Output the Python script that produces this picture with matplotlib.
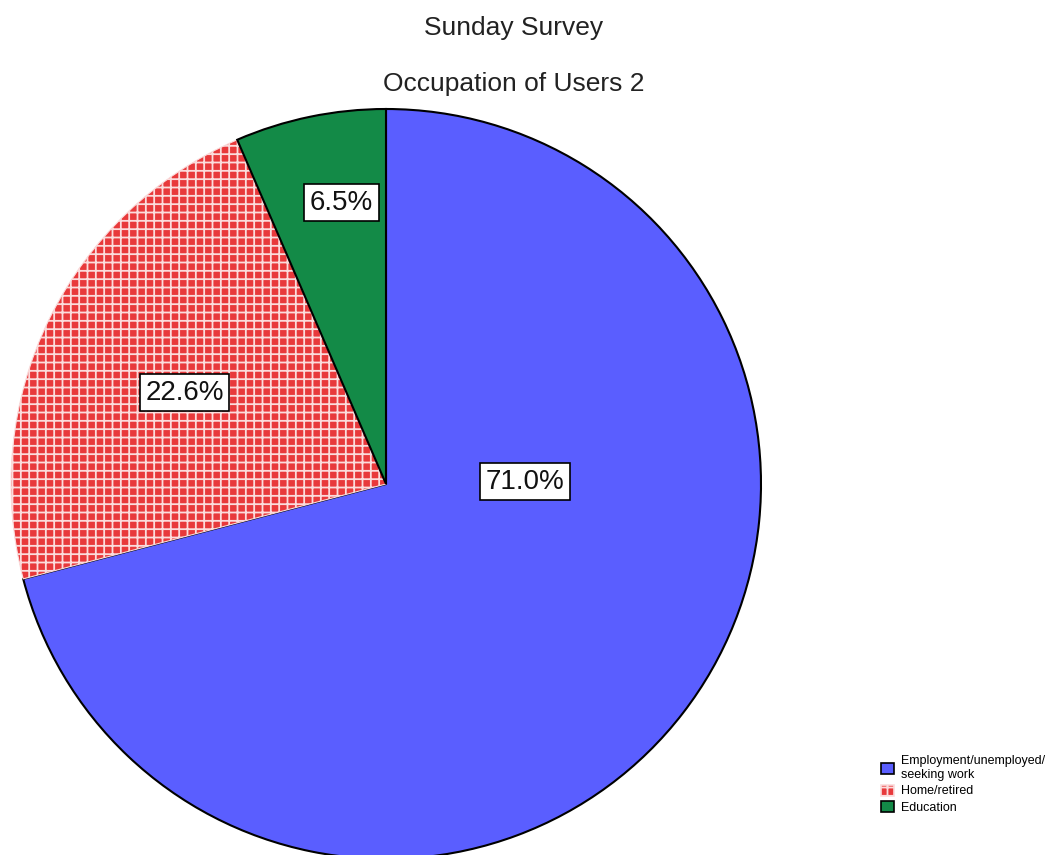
import matplotlib
matplotlib.use("Agg")
import matplotlib.pyplot as plt
from matplotlib.patches import Patch
import numpy as np

plt.rcParams['font.family'] = ['Liberation Sans', 'DejaVu Sans']
plt.rcParams['hatch.linewidth'] = 1.3

# data
categories = ["Employment/unemployed/\nseeking work", "Home/retired", "Education"]
shares = [71.0, 22.6, 6.5]
colors = ["#5a5eff", "#e8393b", "#138a47"]
edge_colors = ["black", "#fbdcdc", "black"]
hatches = [None, "++", None]
# label placement (angle in degrees, fraction of radius), as SPSS put them
label_pos = [(1.0, 0.37), (155.6, 0.59), (99.0, 0.76)]

W, H = 1062, 855
fig = plt.figure(figsize=(W / 100, H / 100), dpi=100)

cx, cy, R = 386, 855 - 484, 375
ax = fig.add_axes([(cx - R) / W, (cy - R) / H, 2 * R / W, 2 * R / H])

wedges, _ = ax.pie(shares, colors=colors, startangle=90, counterclock=False,
                   wedgeprops=dict(linewidth=1.5))
for w, ec, h in zip(wedges, edge_colors, hatches):
    w.set_edgecolor(ec)
    w.set_clip_on(False)
    if h:
        w.set_hatch(h)
        w.set_linewidth(0.8)
ax.set_xlim(-1, 1)
ax.set_ylim(-1, 1)

for s, (ang, r) in zip(shares, label_pos):
    a = np.deg2rad(ang)
    ax.text(r * np.cos(a), r * np.sin(a), f"{s:.1f}%", fontsize=20,
            ha="center", va="center", color="#111111",
            bbox=dict(boxstyle="square,pad=0.2", fc="white", ec="black", lw=1.2))

fig.text(514 / W, 1 - 28 / H, "Sunday Survey", fontsize=19, ha="center", va="center", color="#222222")
fig.text(514 / W, 1 - 84 / H, "Occupation of Users 2", fontsize=19, ha="center", va="center", color="#222222")

handles = [Patch(facecolor=c, edgecolor=("black" if h is None else "#fbdcdc"), hatch=h, linewidth=1.2)
           for c, h in zip(colors, hatches)]
leg = fig.legend(handles, categories, loc="upper left",
                 bbox_to_anchor=(876 / W, 1 - 750 / H), frameon=False,
                 fontsize=9, handlelength=1.0, handleheight=1.0,
                 handletextpad=0.6, labelspacing=0.3, borderaxespad=0)

fig.savefig("out.png", dpi=100)
